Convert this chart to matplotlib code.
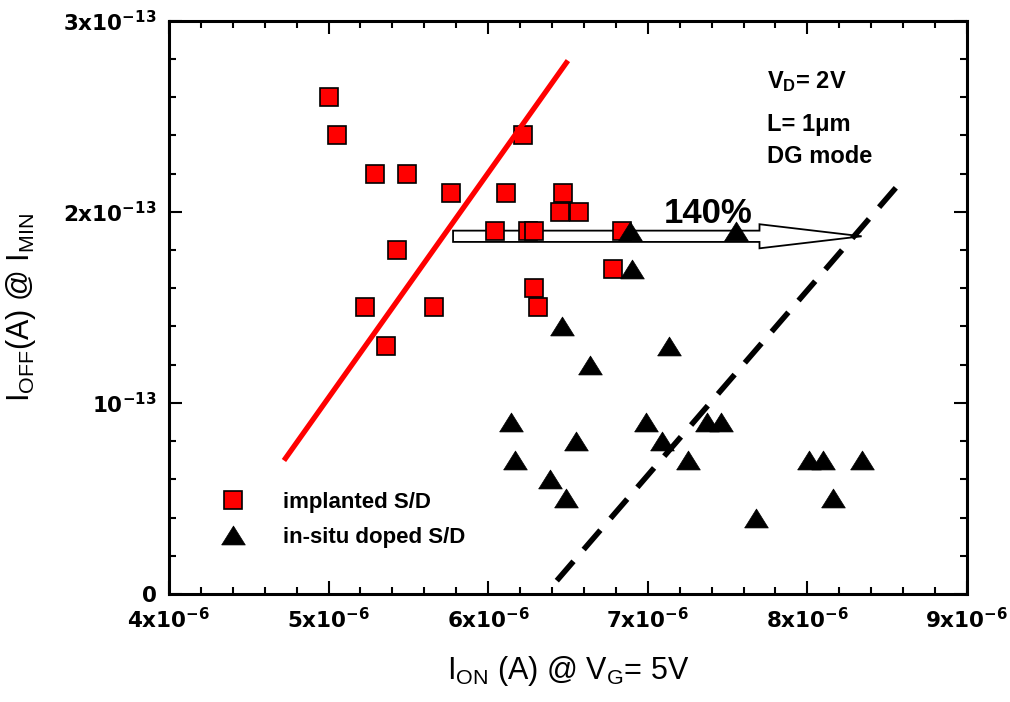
import matplotlib

matplotlib.use("Agg")
import matplotlib.pyplot as plt
from matplotlib.patches import FancyArrow
from matplotlib.ticker import FixedLocator, MultipleLocator

# implanted S/D devices: on-current (A) and minimum off-current (A)
implanted_ion = [5.00e-6, 5.05e-6, 5.29e-6, 5.49e-6, 5.77e-6, 6.11e-6, 6.22e-6,
                 6.47e-6, 6.45e-6, 6.57e-6, 6.04e-6, 6.25e-6, 6.29e-6, 6.84e-6,
                 5.43e-6, 6.78e-6, 5.23e-6, 5.66e-6, 6.29e-6, 6.31e-6, 5.36e-6]
implanted_ioff = [2.60e-13, 2.40e-13, 2.20e-13, 2.20e-13, 2.10e-13, 2.10e-13, 2.40e-13,
                  2.10e-13, 2.00e-13, 2.00e-13, 1.90e-13, 1.90e-13, 1.90e-13, 1.90e-13,
                  1.80e-13, 1.70e-13, 1.50e-13, 1.50e-13, 1.60e-13, 1.50e-13, 1.30e-13]

# in-situ doped S/D devices
insitu_ion = [6.89e-6, 7.55e-6, 6.90e-6, 6.46e-6, 7.13e-6, 6.64e-6, 6.14e-6,
              6.99e-6, 7.37e-6, 7.46e-6, 6.55e-6, 7.09e-6, 6.17e-6, 7.25e-6,
              8.01e-6, 8.10e-6, 8.34e-6, 6.39e-6, 6.49e-6, 8.16e-6, 7.68e-6]
insitu_ioff = [1.90e-13, 1.90e-13, 1.70e-13, 1.40e-13, 1.30e-13, 1.20e-13, 0.90e-13,
               0.90e-13, 0.90e-13, 0.90e-13, 0.80e-13, 0.80e-13, 0.70e-13, 0.70e-13,
               0.70e-13, 0.70e-13, 0.70e-13, 0.60e-13, 0.50e-13, 0.50e-13, 0.40e-13]

# guide lines through each population
implanted_trend_x = [4.73e-6, 6.49e-6]
implanted_trend_y = [0.71e-13, 2.78e-13]
insitu_trend_x = [6.43e-6, 8.60e-6]
insitu_trend_y = [0.07e-13, 2.17e-13]

# improvement arrow between the two trend lines
gain_start = 5.78e-6
gain_tip = 8.34e-6
gain_level = 1.872e-13
gain_label = "140%"

x_ticks = [4e-6, 5e-6, 6e-6, 7e-6, 8e-6, 9e-6]
x_tick_labels = [r"$\mathbf{%dx10^{-6}}$" % v for v in range(4, 10)]
y_ticks = [0, 1e-13, 2e-13, 3e-13]
y_tick_labels = [r"$\mathbf{0}$", r"$\mathbf{10^{-13}}$",
                 r"$\mathbf{2x10^{-13}}$", r"$\mathbf{3x10^{-13}}$"]

plt.rcParams["font.family"] = ["Liberation Sans", "DejaVu Sans"]
plt.rcParams["mathtext.fontset"] = "custom"
plt.rcParams["mathtext.rm"] = "Liberation Sans"
plt.rcParams["mathtext.it"] = "Liberation Sans:italic"
plt.rcParams["mathtext.bf"] = "Liberation Sans:bold"

fig = plt.figure(figsize=(10.1, 7.02), dpi=100)
ax = fig.add_axes([0.1673, 0.1538, 0.7901, 0.8167])

triangle = [(-1, -0.8), (1, -0.8), (0, 0.8), (-1, -0.8)]

ax.add_patch(FancyArrow(gain_start, gain_level, gain_tip - gain_start, 0,
                        width=0.059e-13, head_width=0.126e-13,
                        head_length=0.64e-6, length_includes_head=True,
                        facecolor="white", edgecolor="black", linewidth=1.3,
                        zorder=2))

ax.plot(implanted_ion, implanted_ioff, linestyle="none", marker="s",
        markersize=13, markerfacecolor="#ff0000", markeredgecolor="black",
        markeredgewidth=1.2, zorder=3, label="implanted S/D")
ax.plot(insitu_ion, insitu_ioff, linestyle="none", marker=triangle,
        markersize=17, markerfacecolor="black", markeredgecolor="black",
        markeredgewidth=0.5, zorder=3, label="in-situ doped S/D")

ax.plot(implanted_trend_x, implanted_trend_y, color="#ff0000", linewidth=3.8, zorder=4)
ax.plot(insitu_trend_x, insitu_trend_y, color="black", linewidth=4,
        dashes=[4.6, 2.8], zorder=4)

ax.text(7.38e-6, 1.94e-13, gain_label, ha="center", va="baseline",
        fontsize=25, fontweight="bold")

cond_kw = dict(transform=ax.transAxes, ha="left", va="baseline",
               fontsize=17, fontweight="bold")
ax.text(0.749, 0.882, r"V$_{\mathbf{D}}$= 2V", **cond_kw)
ax.text(0.749, 0.808, "L= 1μm", **cond_kw)
ax.text(0.749, 0.751, "DG mode", **cond_kw)

ax.legend(loc="upper left", bbox_to_anchor=(0.0635, 0.178), frameon=False,
          borderpad=0, borderaxespad=0, handlelength=1.2, handletextpad=1.65,
          labelspacing=0.63, prop={"weight": "bold", "size": 16})

ax.set_xlim(4e-6, 9e-6)
ax.set_ylim(0, 3e-13)
ax.xaxis.set_major_locator(FixedLocator(x_ticks))
ax.yaxis.set_major_locator(FixedLocator(y_ticks))
ax.xaxis.set_minor_locator(MultipleLocator(0.2e-6))
ax.yaxis.set_minor_locator(MultipleLocator(0.2e-13))
ax.set_xticklabels(x_tick_labels)
ax.set_yticklabels(y_tick_labels)
for lbl in ax.get_xticklabels() + ax.get_yticklabels():
    lbl.set_math_fontfamily("dejavusans")
    lbl.set_fontsize(15.5)

ax.tick_params(which="both", direction="in", top=True, right=True, width=1.5)
ax.tick_params(which="major", length=9.5)
ax.tick_params(which="minor", length=4.7)
ax.tick_params(axis="x", which="major", pad=10)
ax.tick_params(axis="y", which="major", pad=9)
for spine in ax.spines.values():
    spine.set_linewidth(2.2)

ax.set_xlabel(r"I$_{\rm ON}$ (A) @ V$_{\rm G}$= 5V", fontsize=22, labelpad=15)
ax.set_ylabel(r"I$_{\rm OFF}$(A) @ I$_{\rm MIN}$", fontsize=22, labelpad=18)

fig.savefig("out.png", dpi=100)
plt.close(fig)
